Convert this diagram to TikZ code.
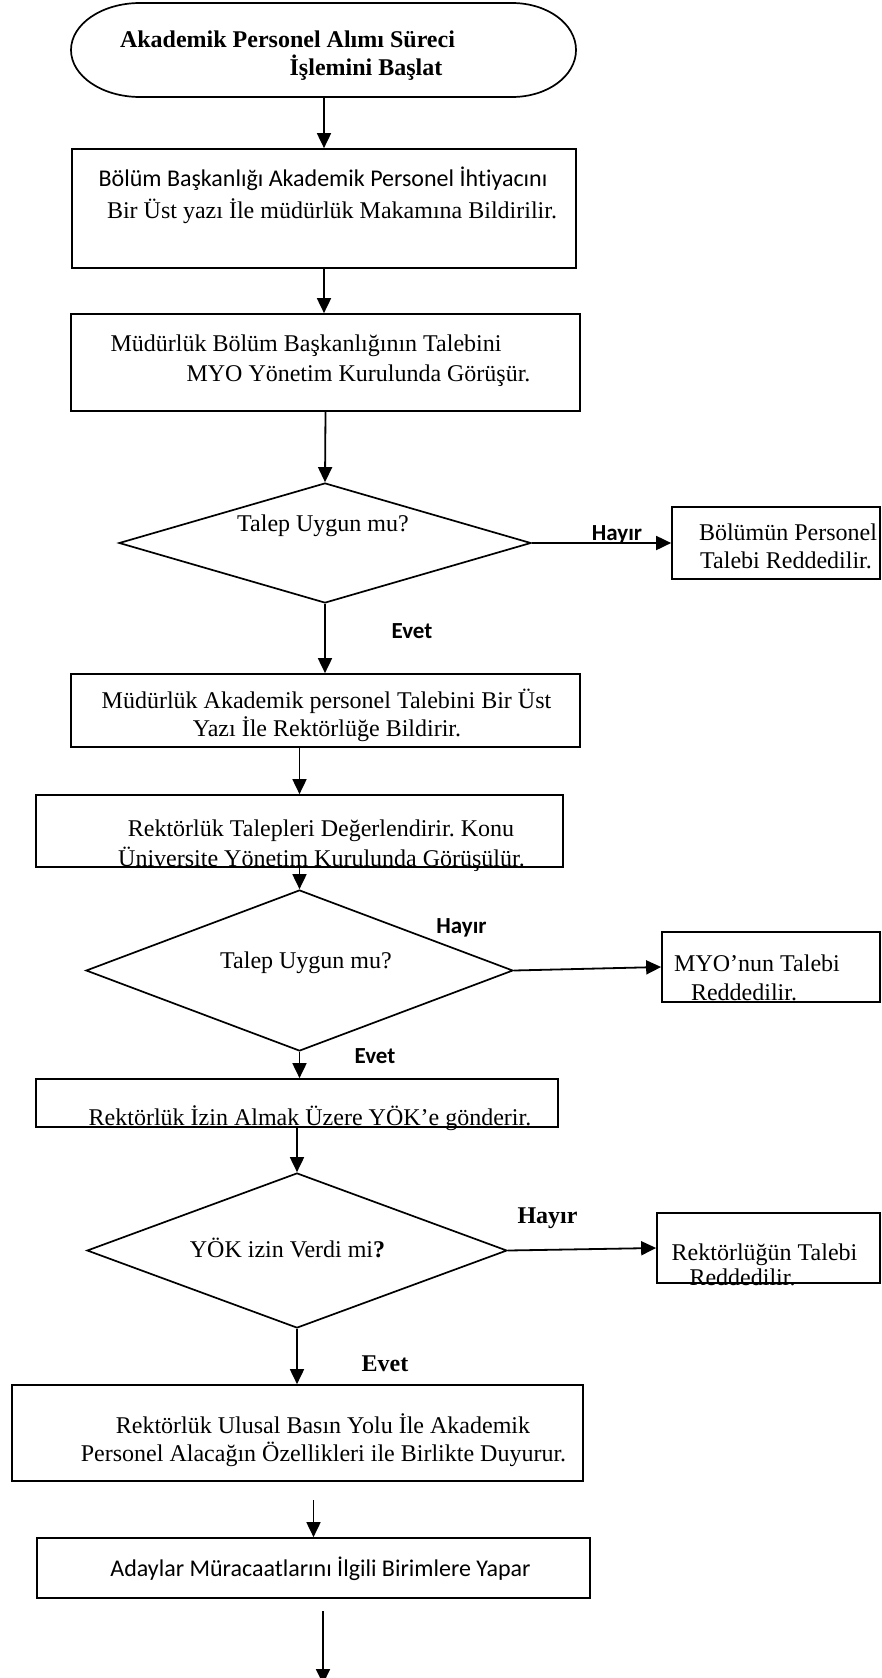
\documentclass[tikz,border=0pt]{standalone}
\usepackage{fontspec}
\setmainfont{Liberation Serif}
\newfontfamily\calfont[Ligatures=NoCommon]{Carlito}
\usetikzlibrary{arrows.meta,shapes.geometric}
\frenchspacing
\begin{document}
\begin{tikzpicture}[x=1pt,y=-1pt,
  shapebox/.style={draw, line width=1.7pt, rectangle, inner sep=0pt},
  decision/.style={draw, line width=1.7pt, diamond, inner sep=0pt},
  arr/.style={-{Triangle[length=15pt,width=14pt]}, line width=1.8pt},
  ser/.style={inner sep=0pt, anchor=base, font=\fontsize{24}{29}\selectfont},
  serb/.style={inner sep=0pt, anchor=base, font=\bfseries\fontsize{24}{29}\selectfont},
  san/.style={inner sep=0pt, anchor=base, font=\calfont\fontsize{24}{29}\selectfont},
  sanb/.style={inner sep=0pt, anchor=base, font=\calfont\bfseries\fontsize{23}{28}\selectfont}]
\useasboundingbox (0,0) rectangle (881,1678);

% start terminal
\node[inner sep=0pt, minimum width=505pt, minimum height=95pt] (start) at (324,50) {};
\draw[line width=1.7pt] (140,3) -- (512,3)
  .. controls (547.6,3) and (576,24) .. (576,50)
  .. controls (576,76) and (547.6,97) .. (512,97)
  -- (140,97)
  .. controls (102,97) and (71,76) .. (71,50)
  .. controls (71,24) and (102,3) .. (140,3) -- cycle;

% process boxes
\node[shapebox, minimum width=504pt, minimum height=119pt] (b1) at (324,208.5) {};
\node[shapebox, minimum width=509pt, minimum height=97pt] (b2) at (325.5,362.5) {};
\node[decision, minimum width=412pt, minimum height=120pt] (d1) at (325,543) {};
\node[shapebox, minimum width=208pt, minimum height=72pt] (r1) at (776,543) {};
\node[shapebox, minimum width=509pt, minimum height=73pt] (b3) at (325.5,710.5) {};
\node[shapebox, minimum width=527pt, minimum height=72pt] (b4) at (299.5,831) {};
\node[decision, minimum width=427pt, minimum height=161pt] (d2) at (299.5,970.5) {};
\node[shapebox, minimum width=218pt, minimum height=70pt] (r2) at (771,967) {};
\node[shapebox, minimum width=522pt, minimum height=48pt] (b5) at (297,1103) {};
\node[decision, minimum width=420pt, minimum height=155pt] (d3) at (297,1250.5) {};
\node[shapebox, minimum width=223pt, minimum height=70pt] (r3) at (768.5,1248) {};
\node[shapebox, minimum width=571pt, minimum height=96pt] (b6) at (297.5,1433) {};
\node[shapebox, minimum width=553pt, minimum height=60pt] (b7) at (313.5,1568) {};

\coordinate (a6) at (313.5,1500);
\coordinate (a7s) at (323,1611);
\coordinate (a7e) at (323,1684);

% connectors
\draw[arr] (start.south) -- (b1.north);
\draw[arr] (b1.south) -- (b1.south |- b2.north);
\draw[arr] (b2.south) -- (d1.north);
\draw[arr] (d1.east) -- (r1.west);
\draw[arr] (d1.south) -- (d1.south |- b3.north);
\draw[arr] (b4.north |- b3.south) -- (b4.north);
\draw[arr] (b4.south) -- (d2.north);
\draw[arr] (d2.east) -- (r2.west);
\draw[arr] (d2.south) -- (d2.south |- b5.north);
\draw[arr] (d3.north |- b5.south) -- (d3.north);
\draw[arr] (d3.east) -- (r3.west);
\draw[arr] (d3.south) -- (d3.south |- b6.north);
\draw[arr] (a6) -- (b7.north);
\draw[arr] (a7s) -- (a7e);

% texts
\node[serb] (t0a) at (287.5,48) {Akademik Personel Alımı Süreci};
\node[serb] (t0b) at (366,76) {İşlemini Başlat};
\node[san] (t1a) at (323,186) {Bölüm Başkanlığı Akademik Personel İhtiyacını};
\node[ser] (t1b) at (332,218) {Bir Üst yazı İle müdürlük Makamına Bildirilir.};
\node[ser] (t2a) at (306,351) {Müdürlük Bölüm Başkanlığının Talebini};
\node[ser] (t2b) at (358.5,381) {MYO Yönetim Kurulunda Görüşür.};
\node[ser] (td1) at (323,531) {Talep Uygun mu?};
\node[ser] (tr1a) at (788,540) {Bölümün Personel};
\node[ser] (tr1b) at (786,568) {Talebi Reddedilir.};
\node[ser] (t3a) at (326.5,708) {Müdürlük Akademik personel Talebini Bir Üst};
\node[ser] (t3b) at (327,736) {Yazı İle Rektörlüğe Bildirir.};
\node[ser] (t4a) at (321,836) {Rektörlük Talepleri Değerlendirir. Konu};
\node[ser] (t4b) at (321.5,866) {Üniversite Yönetim Kurulunda Görüşülür.};
\node[ser] (td2) at (306,968) {Talep Uygun mu?};
\node[ser] (tr2a) at (757,971) {MYO’nun Talebi};
\node[ser] (tr2b) at (744,1000) {Reddedilir.};
\node[ser] (t5) at (310,1125) {Rektörlük İzin Almak Üzere YÖK’e gönderir.};
\node[ser] (td3) at (287.5,1257) {YÖK izin Verdi mi\textbf{?}};
\node[ser] (tr3a) at (764.5,1260) {Rektörlüğün Talebi};
\node[ser] (tr3b) at (742.5,1285) {Reddedilir.};
\node[ser] (t6a) at (323,1433) {Rektörlük Ulusal Basın Yolu İle Akademik};
\node[ser] (t6b) at (323.5,1461) {Personel Alacağın Özellikleri ile Birlikte Duyurur.};
\node[san] (t7) at (320.5,1576) {Adaylar Müracaatlarını İlgili Birimlere Yapar};

% branch labels
\node[sanb] (h1) at (617,540) {Hayır};
\node[sanb] (e1) at (412,638) {Evet};
\node[sanb] (h2) at (461.5,933) {Hayır};
\node[sanb] (e2) at (375,1063) {Evet};
\node[serb] (h3) at (547.5,1223) {Hayır};
\node[serb] (e3) at (385,1371) {Evet};
\end{tikzpicture}
\end{document}
